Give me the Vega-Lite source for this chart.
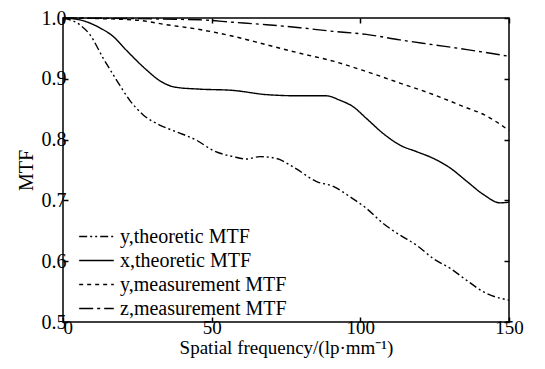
{
  "$schema": "https://vega.github.io/schema/vega-lite/v6.json",
  "width": 446,
  "height": 304,
  "autosize": {"type": "none"},
  "padding": {"left": 63, "top": 18, "right": 36, "bottom": 47},
  "background": "white",
  "config": {
    "font": "Liberation Serif",
    "view": {"stroke": "black", "strokeWidth": 1.5},
    "axis": {"grid": false, "domain": false, "tickColor": "black", "labelColor": "black", "titleColor": "black", "titleFontWeight": "normal", "tickSize": -5, "tickWidth": 1.5}
  },
  "data": {"values": [
    {"f": 0, "m": 1.0, "s": "x,theoretic MTF"},
    {"f": 5.6, "m": 0.997, "s": "x,theoretic MTF"},
    {"f": 12.3, "m": 0.984, "s": "x,theoretic MTF"},
    {"f": 16.8, "m": 0.970, "s": "x,theoretic MTF"},
    {"f": 21.3, "m": 0.947, "s": "x,theoretic MTF"},
    {"f": 28, "m": 0.915, "s": "x,theoretic MTF"},
    {"f": 32.5, "m": 0.897, "s": "x,theoretic MTF"},
    {"f": 38, "m": 0.886, "s": "x,theoretic MTF"},
    {"f": 46, "m": 0.883, "s": "x,theoretic MTF"},
    {"f": 57, "m": 0.881, "s": "x,theoretic MTF"},
    {"f": 68.4, "m": 0.874, "s": "x,theoretic MTF"},
    {"f": 79.7, "m": 0.872, "s": "x,theoretic MTF"},
    {"f": 88.6, "m": 0.872, "s": "x,theoretic MTF"},
    {"f": 93, "m": 0.865, "s": "x,theoretic MTF"},
    {"f": 97.6, "m": 0.854, "s": "x,theoretic MTF"},
    {"f": 102, "m": 0.835, "s": "x,theoretic MTF"},
    {"f": 107.7, "m": 0.810, "s": "x,theoretic MTF"},
    {"f": 113.3, "m": 0.791, "s": "x,theoretic MTF"},
    {"f": 119, "m": 0.780, "s": "x,theoretic MTF"},
    {"f": 124.6, "m": 0.769, "s": "x,theoretic MTF"},
    {"f": 130.3, "m": 0.753, "s": "x,theoretic MTF"},
    {"f": 135.9, "m": 0.731, "s": "x,theoretic MTF"},
    {"f": 141.6, "m": 0.709, "s": "x,theoretic MTF"},
    {"f": 147, "m": 0.696, "s": "x,theoretic MTF"},
    {"f": 150, "m": 0.697, "s": "x,theoretic MTF"},

    {"f": 0, "m": 1.0, "s": "y,measurement MTF"},
    {"f": 23.6, "m": 0.997, "s": "y,measurement MTF"},
    {"f": 34.8, "m": 0.989, "s": "y,measurement MTF"},
    {"f": 46, "m": 0.981, "s": "y,measurement MTF"},
    {"f": 57.2, "m": 0.970, "s": "y,measurement MTF"},
    {"f": 68.4, "m": 0.956, "s": "y,measurement MTF"},
    {"f": 79.7, "m": 0.942, "s": "y,measurement MTF"},
    {"f": 90.9, "m": 0.929, "s": "y,measurement MTF"},
    {"f": 102, "m": 0.912, "s": "y,measurement MTF"},
    {"f": 113.3, "m": 0.893, "s": "y,measurement MTF"},
    {"f": 124.6, "m": 0.874, "s": "y,measurement MTF"},
    {"f": 135.9, "m": 0.852, "s": "y,measurement MTF"},
    {"f": 141.6, "m": 0.841, "s": "y,measurement MTF"},
    {"f": 150, "m": 0.815, "s": "y,measurement MTF"},

    {"f": 0, "m": 1.0, "s": "z,measurement MTF"},
    {"f": 46, "m": 0.997, "s": "z,measurement MTF"},
    {"f": 57.2, "m": 0.993, "s": "z,measurement MTF"},
    {"f": 68.4, "m": 0.989, "s": "z,measurement MTF"},
    {"f": 79.7, "m": 0.984, "s": "z,measurement MTF"},
    {"f": 90.9, "m": 0.978, "s": "z,measurement MTF"},
    {"f": 102, "m": 0.973, "s": "z,measurement MTF"},
    {"f": 113.3, "m": 0.964, "s": "z,measurement MTF"},
    {"f": 124.6, "m": 0.956, "s": "z,measurement MTF"},
    {"f": 135.9, "m": 0.948, "s": "z,measurement MTF"},
    {"f": 150, "m": 0.937, "s": "z,measurement MTF"},

    {"f": 0, "m": 1.0, "s": "y,theoretic MTF"},
    {"f": 5.6, "m": 0.989, "s": "y,theoretic MTF"},
    {"f": 9, "m": 0.973, "s": "y,theoretic MTF"},
    {"f": 13.5, "m": 0.934, "s": "y,theoretic MTF"},
    {"f": 18, "m": 0.898, "s": "y,theoretic MTF"},
    {"f": 22.4, "m": 0.865, "s": "y,theoretic MTF"},
    {"f": 26.9, "m": 0.841, "s": "y,theoretic MTF"},
    {"f": 32.5, "m": 0.824, "s": "y,theoretic MTF"},
    {"f": 38, "m": 0.813, "s": "y,theoretic MTF"},
    {"f": 44.9, "m": 0.799, "s": "y,theoretic MTF"},
    {"f": 50.5, "m": 0.782, "s": "y,theoretic MTF"},
    {"f": 57.2, "m": 0.772, "s": "y,theoretic MTF"},
    {"f": 61.7, "m": 0.768, "s": "y,theoretic MTF"},
    {"f": 66.2, "m": 0.772, "s": "y,theoretic MTF"},
    {"f": 71.8, "m": 0.769, "s": "y,theoretic MTF"},
    {"f": 77.4, "m": 0.755, "s": "y,theoretic MTF"},
    {"f": 85.3, "m": 0.731, "s": "y,theoretic MTF"},
    {"f": 90.9, "m": 0.723, "s": "y,theoretic MTF"},
    {"f": 96.5, "m": 0.706, "s": "y,theoretic MTF"},
    {"f": 102, "m": 0.687, "s": "y,theoretic MTF"},
    {"f": 107.7, "m": 0.662, "s": "y,theoretic MTF"},
    {"f": 113.3, "m": 0.643, "s": "y,theoretic MTF"},
    {"f": 119, "m": 0.626, "s": "y,theoretic MTF"},
    {"f": 124.6, "m": 0.604, "s": "y,theoretic MTF"},
    {"f": 130.3, "m": 0.588, "s": "y,theoretic MTF"},
    {"f": 135.9, "m": 0.568, "s": "y,theoretic MTF"},
    {"f": 141.6, "m": 0.549, "s": "y,theoretic MTF"},
    {"f": 150, "m": 0.536, "s": "y,theoretic MTF"}
  ]},
  "layer": [
    {
      "mark": {"type": "line", "interpolate": "monotone", "color": "black", "strokeWidth": 1.4},
      "encoding": {
        "x": {"field": "f", "type": "quantitative", "scale": {"domain": [0, 150], "nice": false},
              "axis": {"values": [0, 50, 100, 150], "title": "Spatial frequency/(lp·mm⁻¹)", "labelFont": "Liberation Serif", "labelFontSize": 19, "titleFont": "Liberation Serif", "titleFontSize": 19, "labelPadding": 1, "titlePadding": 1, "labelFlush": false,
                       "labelAlign": {"condition": {"test": "datum.value === 0", "value": "left"}, "value": "center"}}},
        "y": {"field": "m", "type": "quantitative", "scale": {"domain": [0.5, 1.0], "nice": false, "zero": false},
              "axis": {"values": [0.5, 0.6, 0.7, 0.8, 0.9, 1.0], "format": ".1f", "title": "MTF", "labelFont": "Liberation Serif", "labelFontSize": 20, "titleFont": "Liberation Serif", "titleFontSize": 20, "labelPadding": 2, "titlePadding": 5}},
        "strokeDash": {"field": "s", "type": "nominal",
          "scale": {"domain": ["y,theoretic MTF", "x,theoretic MTF", "y,measurement MTF", "z,measurement MTF"],
                    "range": [[8, 3, 2, 3, 2, 3], [1, 0], [4, 4], [14, 4, 3, 4]]},
          "legend": {"title": null, "orient": "none", "legendX": 15, "legendY": 210, "symbolType": "stroke", "symbolSize": 1200, "clipHeight": 17, "symbolStrokeWidth": 1.4, "symbolStrokeColor": "black", "labelFontSize": 20, "labelFont": "Liberation Serif", "labelColor": "black", "labelLimit": 400, "rowPadding": 3, "labelOffset": 5}}
      }
    },
    {
      "mark": {"type": "rule", "opacity": 0},
      "encoding": {
        "x": {"datum": 0, "type": "quantitative", "scale": {"domain": [0, 150], "nice": false},
              "axis": {"orient": "top", "values": [0, 50, 100, 150], "labels": false, "title": null}},
        "y": {"datum": 0.5, "type": "quantitative", "scale": {"domain": [0.5, 1.0], "nice": false, "zero": false},
              "axis": {"orient": "right", "values": [0.5, 0.6, 0.7, 0.8, 0.9, 1.0], "labels": false, "title": null}}
      }
    }
  ],
  "resolve": {"scale": {"x": "independent", "y": "independent"}, "axis": {"x": "independent", "y": "independent"}}
}
